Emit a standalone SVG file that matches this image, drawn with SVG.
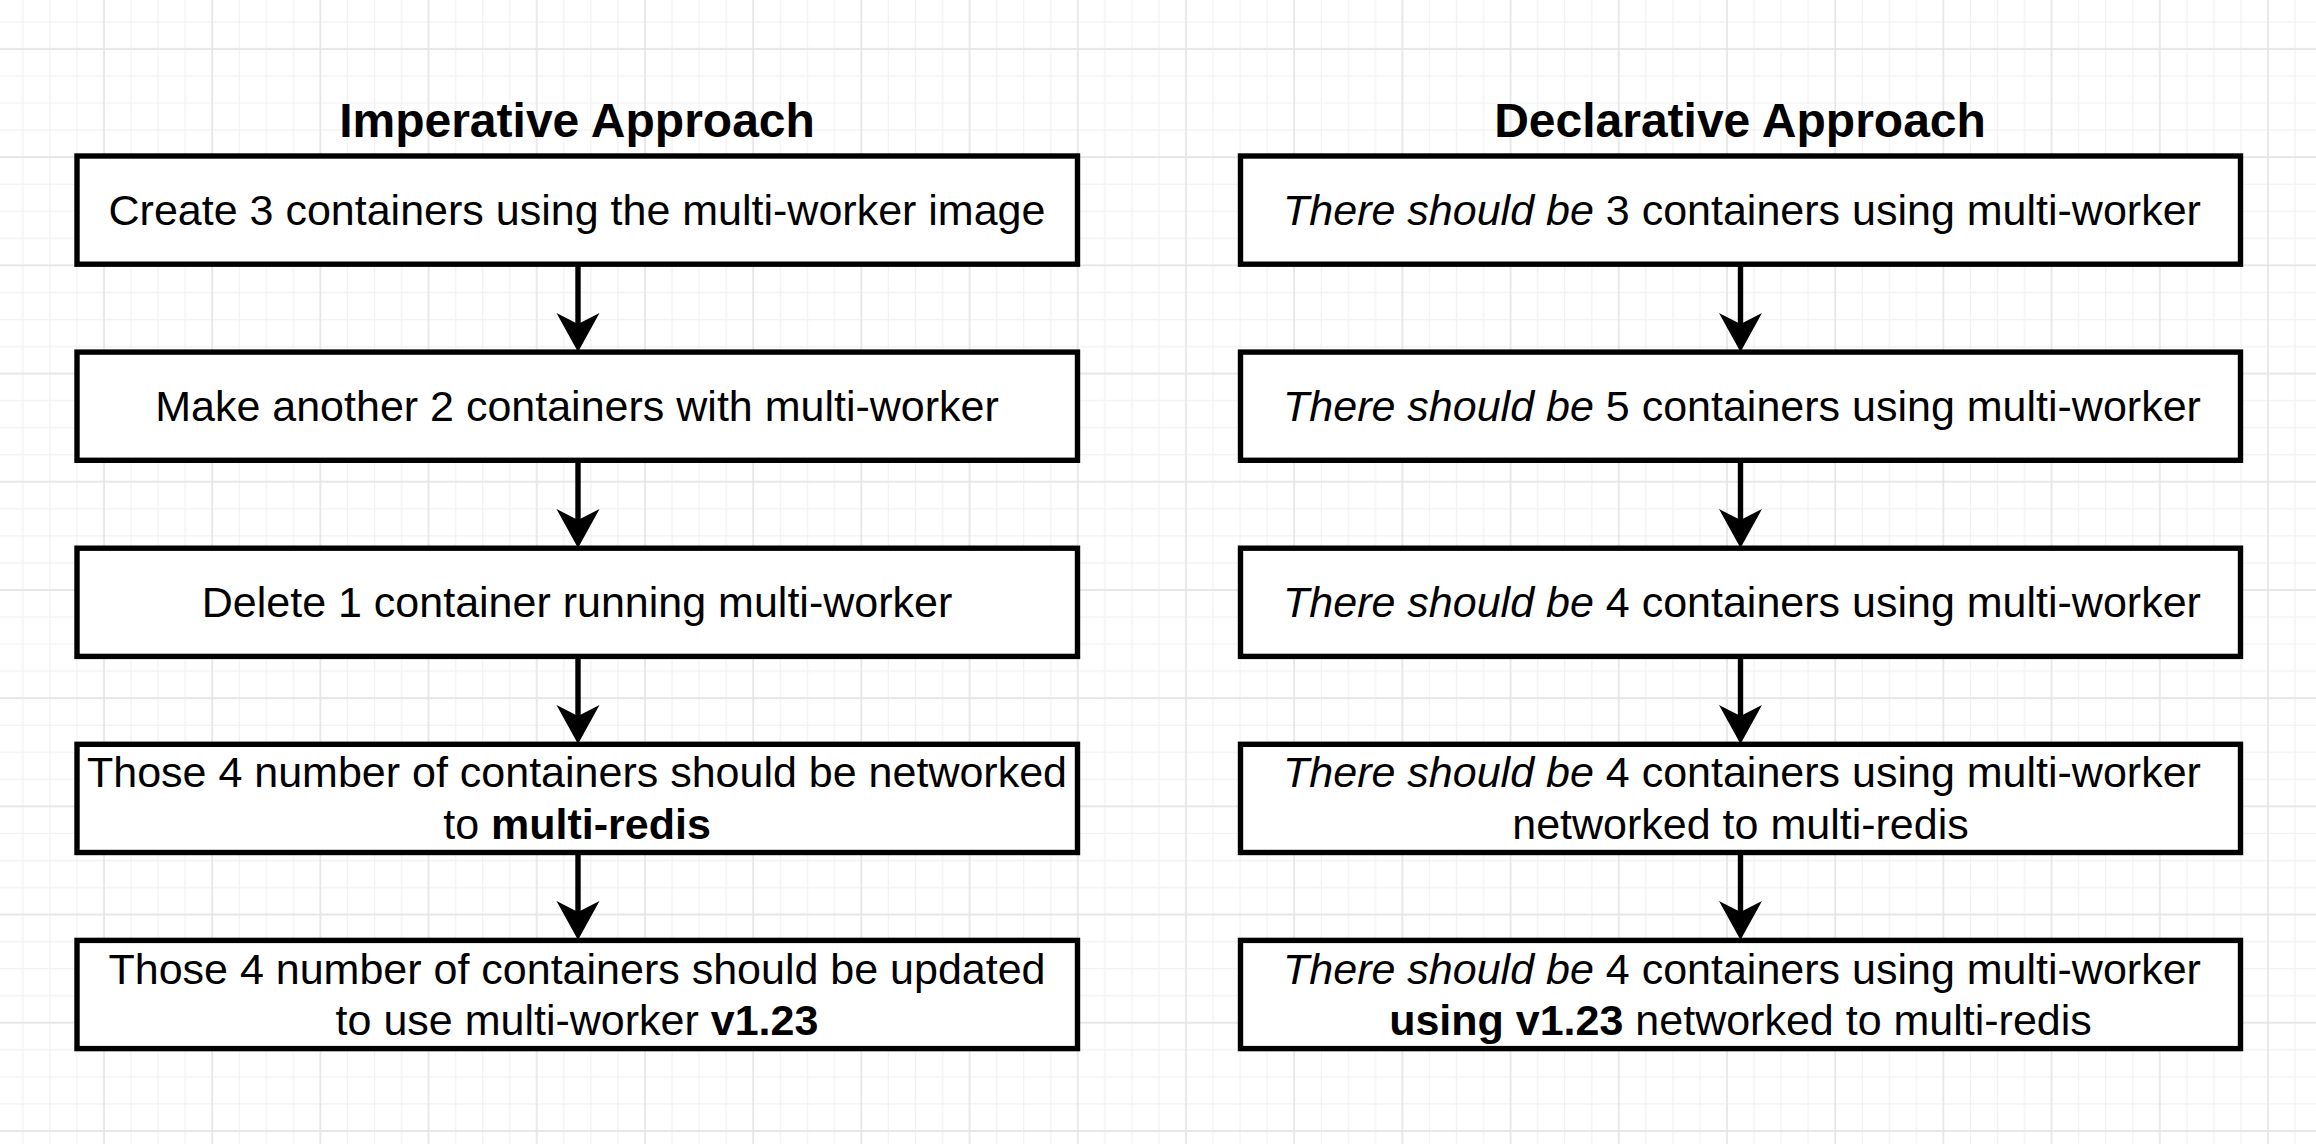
<svg xmlns="http://www.w3.org/2000/svg" width="2316" height="1144" viewBox="0 0 2316 1144">
  <defs>
    <!-- background grid: 4 minor cells per major cell -->
    <pattern id="grid" patternUnits="userSpaceOnUse" x="36.375" y="-18.625" width="108.2" height="108.2">
      <path d="M13.525 0V108.2M40.575 0V108.2M94.675 0V108.2M0 13.525H108.2M0 40.575H108.2M0 94.675H108.2" stroke="#f1f1f1" stroke-width="1.2" fill="none"/>
      <path d="M67.625 0V108.2M0 67.625H108.2" stroke="#e4e4e4" stroke-width="1.6" fill="none"/>
    </pattern>
    <path id="head" d="M0 0 L-21.5 -39 L0 -28 L21.5 -39 Z" fill="#000"/>
  </defs>
  <style>
    .box { fill: #ffffff; stroke: #000000; stroke-width: 5.4; }
    .lbl { font-family: "Liberation Sans", Arial, Helvetica, sans-serif; font-size: 43px; fill: #000; text-anchor: middle; }
    .title { font-family: "Liberation Sans", Arial, Helvetica, sans-serif; font-size: 48px; font-weight: bold; fill: #000; text-anchor: middle; }
    .it { font-style: italic; }
    .b { font-weight: bold; }
    .edge { stroke: #000; stroke-width: 5.4; fill: none; }
  </style>

  <rect width="2316" height="1144" fill="#ffffff"/>
  <rect width="2316" height="1144" fill="url(#grid)"/>

  <text class="title" x="577" y="137">Imperative Approach</text>
  <text class="title" x="1740" y="137">Declarative Approach</text>

  <!-- connectors -->
  <g id="connectors">
    <g id="e-l1-l2"><path class="edge" d="M578 264.2V326"/><use href="#head" x="578" y="352"/></g>
    <g id="e-l2-l3"><path class="edge" d="M578 460.3V522"/><use href="#head" x="578" y="548"/></g>
    <g id="e-l3-l4"><path class="edge" d="M578 656.4V718"/><use href="#head" x="578" y="744"/></g>
    <g id="e-l4-l5"><path class="edge" d="M578 852.5V914"/><use href="#head" x="578" y="940"/></g>
    <g id="e-r1-r2"><path class="edge" d="M1740.5 264.2V326"/><use href="#head" x="1740.5" y="352"/></g>
    <g id="e-r2-r3"><path class="edge" d="M1740.5 460.3V522"/><use href="#head" x="1740.5" y="548"/></g>
    <g id="e-r3-r4"><path class="edge" d="M1740.5 656.4V718"/><use href="#head" x="1740.5" y="744"/></g>
    <g id="e-r4-r5"><path class="edge" d="M1740.5 852.5V914"/><use href="#head" x="1740.5" y="940"/></g>
  </g>

  <!-- imperative column -->
  <g id="imp-1">
    <rect class="box" x="77" y="156" width="1000.5" height="108.2"/>
    <text class="lbl" x="577" y="224.6">Create 3 containers using the multi-worker image</text>
  </g>
  <g id="imp-2">
    <rect class="box" x="77" y="352.1" width="1000.5" height="108.2"/>
    <text class="lbl" x="577" y="420.7">Make another 2 containers with multi-worker</text>
  </g>
  <g id="imp-3">
    <rect class="box" x="77" y="548.2" width="1000.5" height="108.2"/>
    <text class="lbl" x="577" y="616.8">Delete 1 container running multi-worker</text>
  </g>
  <g id="imp-4">
    <rect class="box" x="77" y="744.3" width="1000.5" height="108.2"/>
    <text class="lbl" x="577" y="787.4">Those 4 number of containers should be networked</text>
    <text class="lbl" x="577" y="839.2">to <tspan class="b">multi-redis</tspan></text>
  </g>
  <g id="imp-5">
    <rect class="box" x="77" y="940.4" width="1000.5" height="108.2"/>
    <text class="lbl" x="577" y="983.5">Those 4 number of containers should be updated</text>
    <text class="lbl" x="577" y="1035.3">to use multi-worker <tspan class="b">v1.23</tspan></text>
  </g>

  <!-- declarative column -->
  <g id="dec-1">
    <rect class="box" x="1240.5" y="156" width="1000" height="108.2"/>
    <text class="lbl" x="1742" y="224.6"><tspan class="it">There should be</tspan> 3 containers using multi-worker</text>
  </g>
  <g id="dec-2">
    <rect class="box" x="1240.5" y="352.1" width="1000" height="108.2"/>
    <text class="lbl" x="1742" y="420.7"><tspan class="it">There should be</tspan> 5 containers using multi-worker</text>
  </g>
  <g id="dec-3">
    <rect class="box" x="1240.5" y="548.2" width="1000" height="108.2"/>
    <text class="lbl" x="1742" y="616.8"><tspan class="it">There should be</tspan> 4 containers using multi-worker</text>
  </g>
  <g id="dec-4">
    <rect class="box" x="1240.5" y="744.3" width="1000" height="108.2"/>
    <text class="lbl" x="1742" y="787.4"><tspan class="it">There should be</tspan> 4 containers using multi-worker</text>
    <text class="lbl" x="1740.5" y="839.2">networked to multi-redis</text>
  </g>
  <g id="dec-5">
    <rect class="box" x="1240.5" y="940.4" width="1000" height="108.2"/>
    <text class="lbl" x="1742" y="983.5"><tspan class="it">There should be</tspan> 4 containers using multi-worker</text>
    <text class="lbl" x="1740.5" y="1035.3"><tspan class="b">using v1.23</tspan> networked to multi-redis</text>
  </g>
</svg>
